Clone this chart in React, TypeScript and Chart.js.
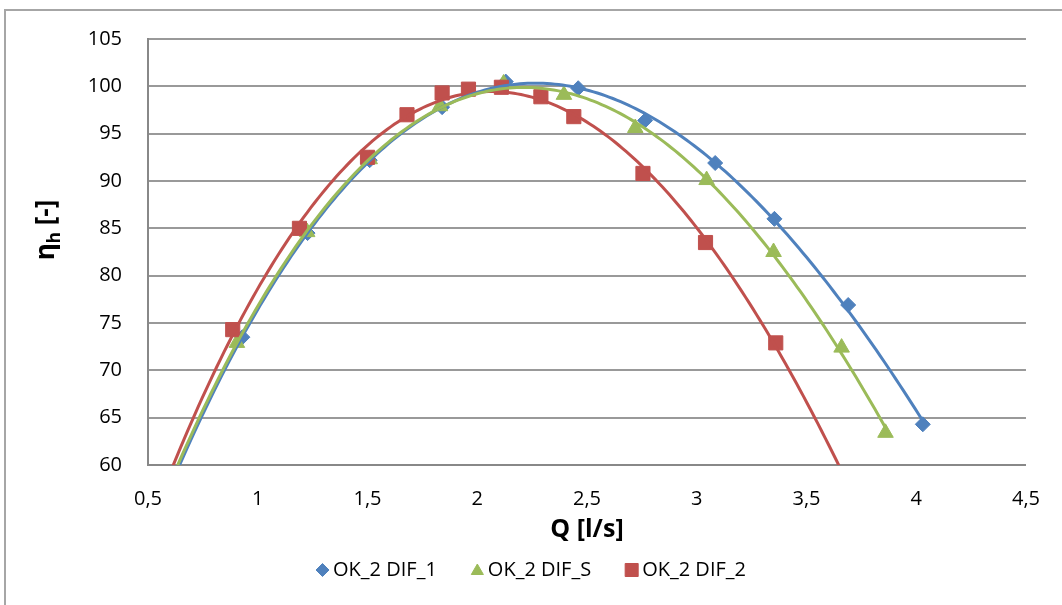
import React, { useEffect, useRef } from 'react';
import { Chart, registerables } from 'chart.js';
import { drawPoint } from 'chart.js/helpers';

Chart.register(...registerables);

const seriesNames = ['OK_2 DIF_1', 'OK_2 DIF_S', 'OK_2 DIF_2'];
const seriesColors = ['#4F81BD', '#9BBB59', '#C0504D'];

const dif1Q = [0.93, 1.227, 1.51, 1.84, 2.13, 2.46, 2.765, 3.084, 3.354, 3.69, 4.03];
const dif1Eta = [73.5, 84.5, 92.2, 97.8, 100.5, 99.8, 96.4, 91.9, 86.0, 76.9, 64.3];

const difSQ = [0.905, 1.225, 1.51, 1.83, 2.12, 2.395, 2.72, 3.045, 3.35, 3.66, 3.86];
const difSEta = [72.9, 84.6, 92.3, 97.9, 100.3, 99.1, 95.6, 90.1, 82.5, 72.4, 63.4];

const dif2Q = [0.886, 1.19, 1.5, 1.68, 1.84, 1.96, 2.11, 2.29, 2.44, 2.755, 3.04, 3.36];
const dif2Eta = [74.3, 85.0, 92.5, 97.0, 99.3, 99.7, 99.9, 98.9, 96.8, 90.8, 83.5, 72.9];

// trendline (polynomial, order 3) range: backward/forward forecast
const trendStart = [0.5, 0.5, 0.5];
const trendEnd = [4.03, 3.86, 3.8];

const xTickValues = [0.5, 1, 1.5, 2, 2.5, 3, 3.5, 4, 4.5];
const yTickValues = [60, 65, 70, 75, 80, 85, 90, 95, 100, 105];

const xTitle = 'Q [l/s]';
const yTitleMain = 'η';
const yTitleSub = 'h';
const yTitleRest = ' [-]';

const markerStyles = ['rectRot', 'triangle', 'rect'];
const markerRadii = [7.5, 9, 10];
const legendRadii = [6.5, 7, 9.2];

const FONT = '"Open Sans", "Noto Sans", "DejaVu Sans", sans-serif';

function polyFit(xs: number[], ys: number[], deg: number): number[] {
  const n = deg + 1;
  const A: number[][] = Array.from({ length: n }, () => new Array(n + 1).fill(0));
  for (let i = 0; i < xs.length; i++) {
    for (let r = 0; r < n; r++) {
      for (let c = 0; c < n; c++) A[r][c] += Math.pow(xs[i], r + c);
      A[r][n] += ys[i] * Math.pow(xs[i], r);
    }
  }
  for (let col = 0; col < n; col++) {
    let piv = col;
    for (let r = col + 1; r < n; r++) if (Math.abs(A[r][col]) > Math.abs(A[piv][col])) piv = r;
    const tmp = A[col];
    A[col] = A[piv];
    A[piv] = tmp;
    for (let r = 0; r < n; r++) {
      if (r === col) continue;
      const f = A[r][col] / A[col][col];
      for (let c = col; c <= n; c++) A[r][c] -= f * A[col][c];
    }
  }
  return A.map((row, i) => row[n] / row[i]);
}

function trendPoints(xs: number[], ys: number[], from: number, to: number) {
  const coef = polyFit(xs, ys, 3);
  const pts: { x: number; y: number }[] = [];
  const steps = 200;
  for (let i = 0; i <= steps; i++) {
    const x = from + ((to - from) * i) / steps;
    let y = 0;
    for (let k = 0; k < coef.length; k++) y += coef[k] * Math.pow(x, k);
    pts.push({ x, y });
  }
  return pts;
}

const fmt = (v: number) => String(v).replace('.', ',');

const titlesPlugin = {
  id: 'axisTitles',
  afterDraw(chart: any) {
    const ctx = chart.ctx;
    const area = chart.chartArea;
    // x title
    ctx.save();
    ctx.fillStyle = '#000';
    ctx.font = `bold 25px ${FONT}`;
    ctx.textAlign = 'center';
    ctx.textBaseline = 'middle';
    ctx.fillText(xTitle, (area.left + area.right) / 2, 530);
    ctx.restore();

    // y title (rotated, with subscript)
    ctx.save();
    ctx.translate(46, 230);
    ctx.rotate(-Math.PI / 2);
    ctx.fillStyle = '#000';
    ctx.textBaseline = 'alphabetic';
    ctx.textAlign = 'left';
    const big = `bold 26px ${FONT}`;
    const small = `bold 17px ${FONT}`;
    ctx.font = big;
    const w1 = ctx.measureText(yTitleMain).width;
    const w3 = ctx.measureText(yTitleRest).width;
    ctx.font = small;
    const w2 = ctx.measureText(yTitleSub).width;
    const total = w1 + w2 + w3;
    let x = -total / 2;
    const base = 8;
    ctx.font = big;
    ctx.fillText(yTitleMain, x, base);
    x += w1;
    ctx.font = small;
    ctx.fillText(yTitleSub, x, base + 6);
    x += w2;
    ctx.font = big;
    ctx.fillText(yTitleRest, x, base);
    ctx.restore();

    // legend
    ctx.save();
    ctx.font = `20px ${FONT}`;
    ctx.textBaseline = 'middle';
    ctx.textAlign = 'left';
    const markerW = 13;
    const markerGap = 4;
    const itemGap = 34;
    const widths = seriesNames.map((n) => ctx.measureText(n).width);
    const totalW =
      widths.reduce((a, b) => a + b, 0) + seriesNames.length * (markerW + markerGap) + itemGap * (seriesNames.length - 1);
    let lx = 531 - totalW / 2;
    const ly = 570;
    seriesNames.forEach((name, i) => {
      ctx.fillStyle = seriesColors[i];
      ctx.strokeStyle = seriesColors[i];
      ctx.lineWidth = 1;
      drawPoint(ctx, { pointStyle: markerStyles[i], radius: legendRadii[i], rotation: 0, borderWidth: 1 } as any, lx + markerW / 2, ly + (i === 1 ? 1 : 0));
      lx += markerW + markerGap;
      ctx.fillStyle = '#000';
      ctx.fillText(name, lx, ly);
      lx += widths[i] + itemGap;
    });
    ctx.restore();
  },
};

export default function App() {
  const ref = useRef<HTMLCanvasElement | null>(null);

  useEffect(() => {
    if (!ref.current) return;
    const toXY = (xs: number[], ys: number[]) => xs.map((x, i) => ({ x, y: ys[i] }));
    const qs = [dif1Q, difSQ, dif2Q];
    const etas = [dif1Eta, difSEta, dif2Eta];
    const pointSets = seriesNames.map((name, i) => ({
      type: 'scatter' as const,
      label: name,
      data: toXY(qs[i], etas[i]),
      backgroundColor: seriesColors[i],
      borderColor: seriesColors[i],
      borderWidth: 1,
      pointStyle: markerStyles[i],
      pointRadius: markerRadii[i],
      pointHoverRadius: markerRadii[i],
      showLine: false,
      order: 3 - i,
    }));
    const trendSets = seriesNames.map((name, i) => ({
      type: 'scatter' as const,
      label: name + ' trend',
      data: trendPoints(qs[i], etas[i], trendStart[i], trendEnd[i]),
      borderColor: seriesColors[i],
      backgroundColor: seriesColors[i],
      borderWidth: 3,
      pointRadius: 0,
      pointHoverRadius: 0,
      showLine: true,
      tension: 0,
      clip: 0,
      order: i === 1 ? -1 : 0,
    }));

    const chart = new Chart(ref.current, {
      type: 'scatter',
      data: { datasets: [...pointSets, ...trendSets] as any },
      plugins: [titlesPlugin],
      options: {
        animation: false,
        responsive: false,
        maintainAspectRatio: false,
        layout: { padding: { left: 30, top: 39, right: 34, bottom: 77 } },
        font: { family: FONT },
        plugins: {
          tooltip: { enabled: false },
          legend: { display: false },
        },
        scales: {
          x: {
            type: 'linear',
            min: 0.5,
            max: 4.5,
            afterFit: (s: any) => {
              s.height = 63;
            },
            afterBuildTicks: (s: any) => {
              s.ticks = xTickValues.map((v) => ({ value: v }));
            },
            grid: { display: false, drawTicks: false },
            border: { display: true, color: '#888888', width: 2 },
            ticks: {
              padding: 22,
              color: '#000',
              font: { family: FONT, size: 20 },
              callback: (v: any) => fmt(Number(v)),
            },
            title: { display: false },
          },
          y: {
            type: 'linear',
            min: 60,
            max: 105,
            afterFit: (s: any) => {
              s.width = 118;
            },
            afterBuildTicks: (s: any) => {
              s.ticks = yTickValues.map((v) => ({ value: v }));
            },
            grid: { color: '#999999', lineWidth: 2, drawTicks: false },
            border: { display: true, color: '#888888', width: 2 },
            ticks: {
              padding: 26,
              color: '#000',
              font: { family: FONT, size: 20 },
              callback: (v: any) => fmt(Number(v)),
            },
          },
        },
      } as any,
    });
    return () => chart.destroy();
  }, []);

  return (
    <div style={{ position: 'fixed', left: 0, top: 0, width: 1062, height: 605, background: '#fff', overflow: 'hidden' }}>
      <div
        style={{
          position: 'absolute',
          left: 4,
          top: 9,
          width: 1100,
          height: 700,
          borderLeft: '2px solid #a6a6a6',
          borderTop: '2px solid #a6a6a6',
        }}
      />
      <canvas ref={ref} width={1062} height={605} style={{ position: 'absolute', left: 0, top: 0, width: 1062, height: 605 }} />
    </div>
  );
}
